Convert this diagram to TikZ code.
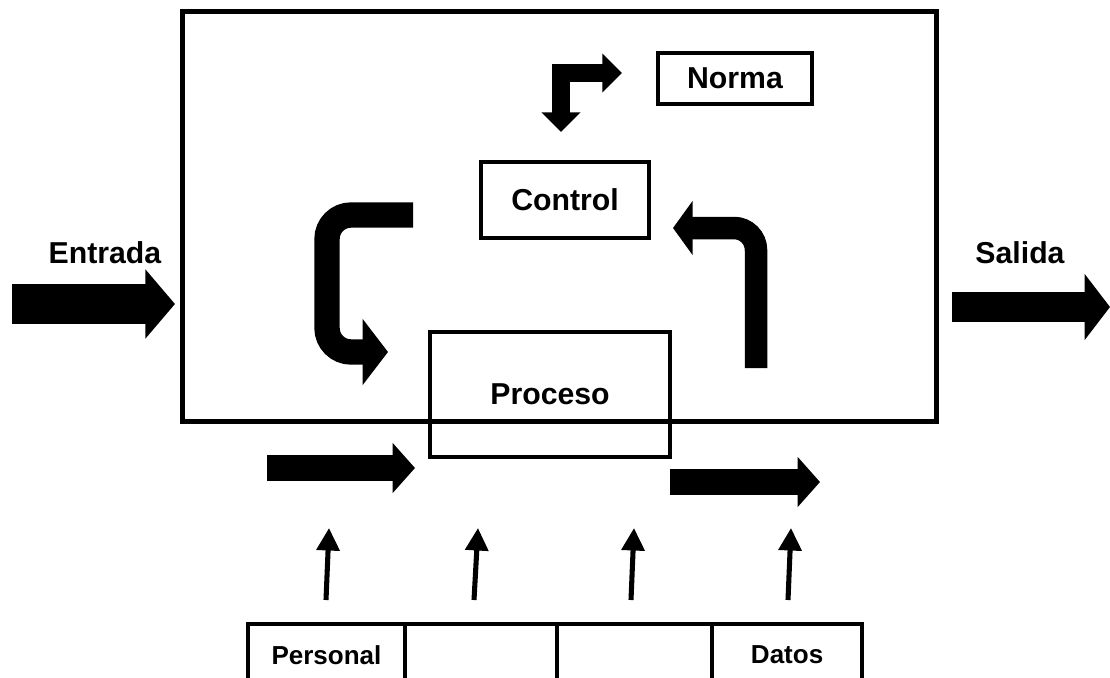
\documentclass[tikz,border=0pt]{standalone}
\usepackage{fontspec}
\setmainfont{Liberation Sans}
\usetikzlibrary{arrows.meta, positioning}

\tikzset{
  caja/.style={draw, line width=3pt, inner sep=0pt, outer sep=0pt,
    font=\bfseries\fontsize{21.5}{25}\selectfont},
  celda/.style={draw, line width=2.8pt, inner sep=0pt, outer sep=0pt,
    minimum height=1.55cm, font=\bfseries\fontsize{18.5}{22}\selectfont},
  rotulo/.style={font=\bfseries\fontsize{21.5}{25}\selectfont},
  gruesa/.style n args={3}{line width=#1, line join=miter,
    -{Triangle[width=#2, length=#3]}},
  subida/.style={line width=3.6pt, -{Triangle[width=16pt, length=16pt]}}
}

\begin{document}
\begin{tikzpicture}[x=0.025cm, y=-0.025cm]
\clip (0,0) rectangle (1110,677);

\node[caja, line width=3.5pt, minimum width=18.825cm, minimum height=10.225cm] (sistema) at (559.5,216.5) {};
\node[caja, minimum width=3.85cm, minimum height=1.275cm] (norma) at (735,78.5) {Norma};
\node[caja, minimum width=4.2cm, minimum height=1.9cm] (control) at (565,200) {Control};
\node[caja, minimum width=6cm, minimum height=3.125cm] (proceso) at (550,394.5) {Proceso};

\node[rotulo] (entrada) at (105,253) {Entrada};
\node[rotulo] (salida) at (1020,253) {Salida};

\draw[gruesa={28pt}{48pt}{21pt}] (12,304) -- (175,304);
\draw[gruesa={22pt}{46pt}{18pt}] (952,307) -- (1110,307);

\draw[gruesa={19pt}{35pt}{16pt}] (267,468) -- (415,468);
\draw[gruesa={19pt}{35pt}{16pt}] (670,482) -- (820,482);

\draw[gruesa={18pt}{46pt}{18pt}, rounded corners=0.6cm] (413,215) -- (327,215) -- (327,352) -- (388,352);
\draw[gruesa={16pt}{38pt}{14pt}, rounded corners=0.55cm] (756,368) -- (756,228) -- (673,228);
\draw[line width=12.5pt, line join=miter, {Triangle[width=27pt, length=14pt]}-{Triangle[width=27pt, length=14pt]}]
  (561,132) -- (561,73) -- (622,73);

\node[celda, minimum width=3.925cm] (personal) at (326.5,655) {Personal};
\node[celda, minimum width=3.8cm, right=0pt of personal] (c2) {};
\node[celda, minimum width=3.875cm, right=0pt of c2] (c3) {};
\node[celda, minimum width=3.75cm, right=0pt of c3] (datos) {Datos};

\coordinate (p1) at (326,600);
\coordinate (p2) at (474,600);
\coordinate (p3) at (631,600);
\coordinate (p4) at (788,600);
\draw[subida] (p1) -- ++(3,-72);
\draw[subida] (p2) -- ++(4,-72);
\draw[subida] (p3) -- ++(3,-72);
\draw[subida] (p4) -- ++(3,-72);

\end{tikzpicture}
\end{document}
